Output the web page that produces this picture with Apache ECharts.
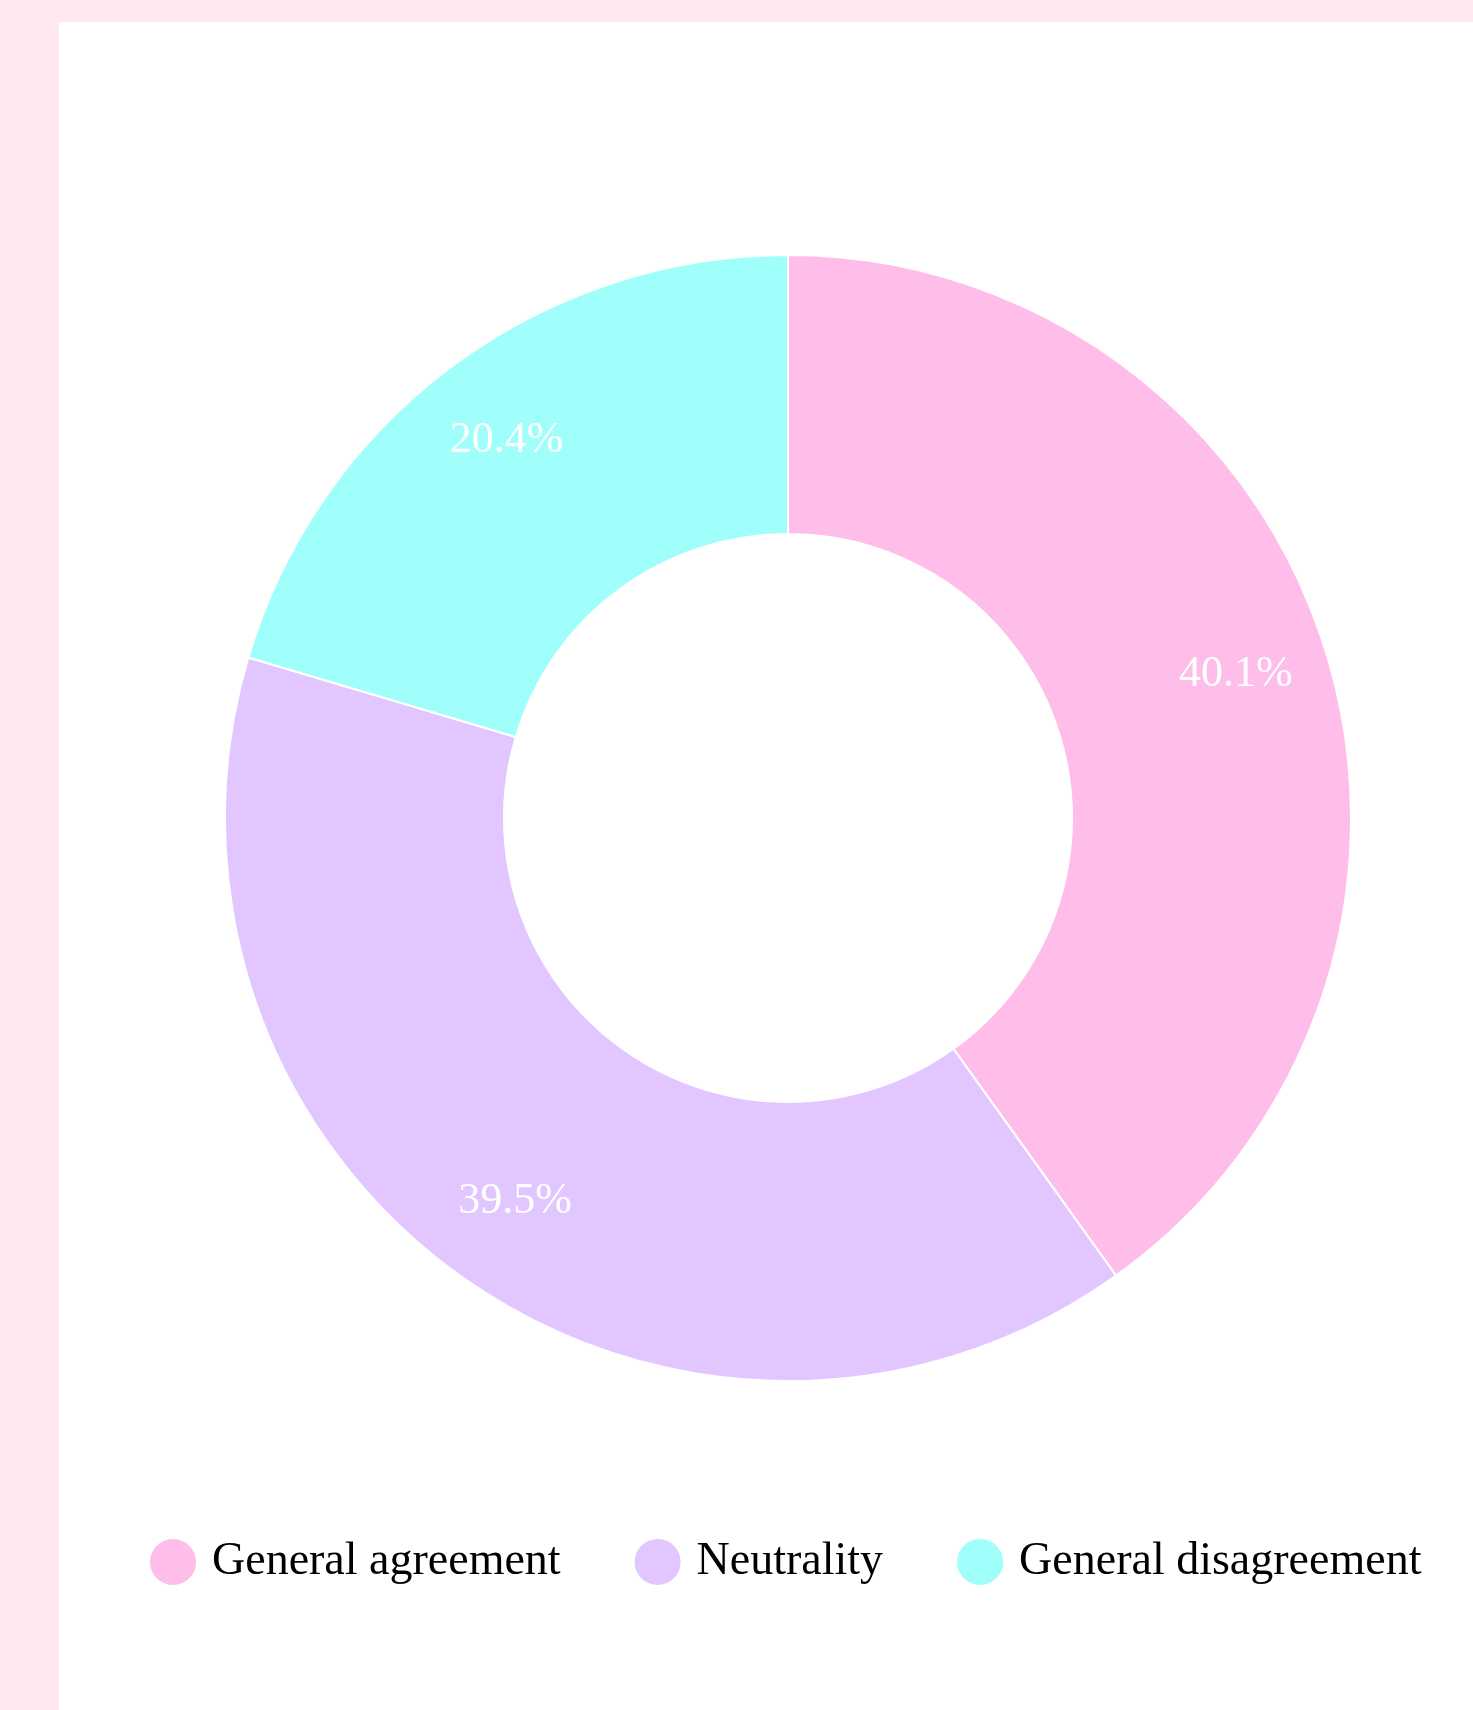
<!DOCTYPE html>
<html>
<head>
<meta charset="utf-8">
<script src="https://cdn.jsdelivr.net/npm/echarts@6/dist/echarts.min.js"></script>
<style>
  html, body { margin: 0; padding: 0; background: #ffe8f1; }
  #chart { position: absolute; left: 59px; top: 22px; width: 1414px; height: 1688px; background: #ffffff; }
</style>
</head>
<body>
<div id="chart"></div>
<script>
const categories = ["General agreement", "Neutrality", "General disagreement"];
const values = [40.1, 39.5, 20.4];
const colors = ["#ffbde9", "#e1c6ff", "#a0fffb"];

const pieData = categories.map((name, i) => ({
  name: name,
  value: values[i],
  itemStyle: { color: colors[i] }
}));

const myChart = echarts.init(document.getElementById("chart"));

const option = {
  animation: false,
  legend: {
    data: categories,
    icon: "circle",
    left: 84,
    top: 1510,
    itemWidth: 48,
    itemHeight: 48,
    itemGap: 72,
    textStyle: {
      fontFamily: "Liberation Serif",
      fontSize: 46,
      color: "#000",
      padding: [0, 0, 0, 10]
    }
  },
  series: [
    {
      type: "pie",
      center: [729, 796],
      radius: [284, 563],
      startAngle: 90,
      clockwise: true,
      itemStyle: { borderColor: "#fff", borderWidth: 2 },
      label: { show: false },
      labelLine: { show: false },
      emphasis: { disabled: true },
      data: pieData
    },
    {
      // transparent ring, only used to place the percent labels further out
      type: "pie",
      center: [729, 796],
      radius: [372, 563],
      startAngle: 90,
      clockwise: true,
      silent: true,
      itemStyle: { color: "rgba(0,0,0,0)" },
      label: {
        show: true,
        position: "inside",
        formatter: (p) => p.value.toFixed(1) + "%",
        color: "#fff",
        fontFamily: "Liberation Serif",
        fontSize: 44
      },
      labelLine: { show: false },
      emphasis: { disabled: true },
      data: categories.map((name, i) => ({ name: name, value: values[i] }))
    }
  ]
};

myChart.setOption(option);
</script>
</body>
</html>
